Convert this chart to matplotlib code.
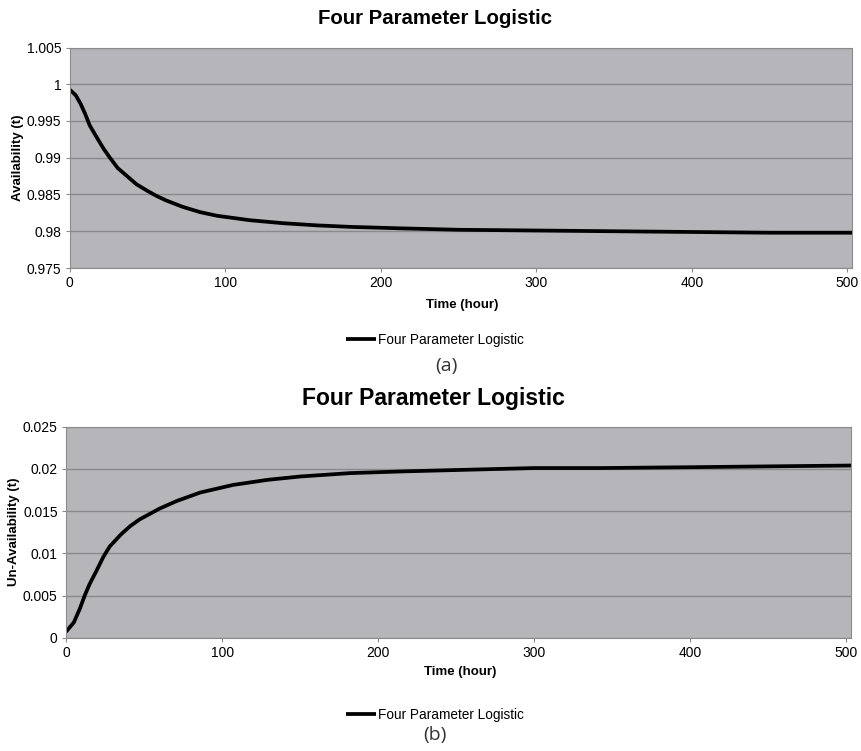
import matplotlib
matplotlib.use("Agg")
import matplotlib.pyplot as plt

# panel (a): availability
time_a = [0, 4, 7, 10, 13, 18, 22, 26, 31, 37, 43, 50, 56, 62, 73, 84, 95, 116, 137, 159,
          180, 212, 250, 300, 350, 400, 450, 503]
avail = [0.9993, 0.9985, 0.9974, 0.9960, 0.9944, 0.9926, 0.9912, 0.9900, 0.9886, 0.9875,
         0.9864, 0.9855, 0.9848, 0.9842, 0.9833, 0.9826, 0.9821, 0.9815, 0.9811, 0.9808,
         0.9806, 0.9804, 0.9802, 0.9801, 0.9800, 0.9799, 0.9798, 0.9798]

# panel (b): un-availability
time_b = [0, 5, 9, 12, 15, 20, 24, 28, 35, 41, 47, 54, 60, 71, 86, 107, 129, 150, 182,
          215, 257, 300, 343, 400, 450, 503]
unavail = [0.0007, 0.0018, 0.0035, 0.0050, 0.0063, 0.0081, 0.0096, 0.0108, 0.0122, 0.0132,
           0.0140, 0.0147, 0.0153, 0.0162, 0.0172, 0.0181, 0.0187, 0.0191, 0.0195, 0.0197,
           0.0199, 0.0201, 0.0201, 0.0202, 0.0203, 0.0204]

xticks = [0, 100, 200, 300, 400, 500]
yticks_a = [0.975, 0.98, 0.985, 0.99, 0.995, 1.0, 1.005]
ylabels_a = ["0.975", "0.98", "0.985", "0.99", "0.995", "1", "1.005"]
yticks_b = [0, 0.005, 0.01, 0.015, 0.02, 0.025]
ylabels_b = ["0", "0.005", "0.01", "0.015", "0.02", "0.025"]

TITLE = "Four Parameter Logistic"
FONT = "Liberation Sans"
FACE = "#b6b6ba"
GRID = "#8a8a8e"

fig = plt.figure(figsize=(8.61, 7.51), dpi=100)


def fy(px):
    # pixel row from the top -> figure fraction
    return 1 - px / 751


def panel(rect, x, y, yticks, ylabels, ylabel):
    ax = fig.add_axes(rect)
    ax.set_facecolor(FACE)
    line, = ax.plot(x, y, color="black", lw=2.7, label=TITLE,
                    solid_capstyle="butt", solid_joinstyle="round")
    ax.set_xlim(0, 503)
    ax.set_ylim(yticks[0], yticks[-1])
    ax.set_xticks(xticks)
    ax.set_xticklabels([str(t) for t in xticks], family=FONT, fontsize=10)
    ax.set_yticks(yticks)
    ax.set_yticklabels(ylabels, family=FONT, fontsize=10)
    ax.yaxis.grid(True, color=GRID, lw=1.0)
    ax.set_axisbelow(True)
    for s in ax.spines.values():
        s.set_color("#8c8c8c")
        s.set_linewidth(0.8)
    ax.tick_params(axis="both", length=3, width=0.8, color="#8c8c8c", pad=3)
    ax.set_ylabel(ylabel, family=FONT, fontsize=9.5, fontweight="bold", labelpad=2)
    return ax, line


ax_a, line_a = panel([69.5 / 861, fy(268), 782.5 / 861, 220.5 / 751], time_a, avail,
                     yticks_a, ylabels_a, "Availability (t)")
ax_b, line_b = panel([66 / 861, fy(637.7), 785 / 861, 211 / 751], time_b, unavail,
                     yticks_b, ylabels_b, "Un-Availability (t)")

fig.text(435 / 861, fy(18), TITLE, ha="center", va="center", family=FONT, fontsize=14.7,
         fontweight="bold")
fig.text(433 / 861, fy(398), TITLE, ha="center", va="center", family=FONT, fontsize=16.5,
         fontweight="bold")

for xl, yl in ((462, 305), (460, 672)):
    fig.text(xl / 861, fy(yl), "Time (hour)", ha="center", va="center", family=FONT,
             fontsize=9.5, fontweight="bold")

for line, ypx in ((line_a, 340), (line_b, 715)):
    fig.legend(handles=[line], loc="center", bbox_to_anchor=(435 / 861, fy(ypx)), frameon=False,
               handlelength=2.2, handletextpad=0.1, prop={"family": FONT, "size": 9.8})

fig.text(446 / 861, fy(366), "(a)", ha="center", va="center", family="Open Sans", fontsize=14,
         color="#333333")
fig.text(435 / 861, fy(735), "(b)", ha="center", va="center", family="Open Sans", fontsize=14,
         color="#333333")

fig.savefig("out.png", dpi=100)
